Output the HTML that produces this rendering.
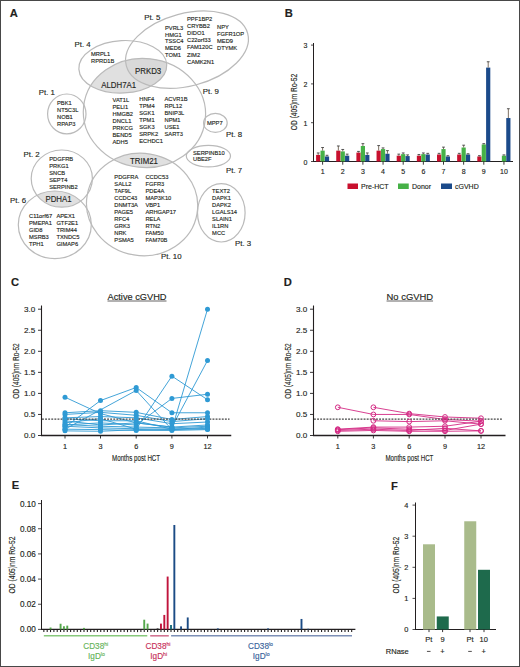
<!DOCTYPE html>
<html><head><meta charset="utf-8"><style>
html,body{margin:0;padding:0;background:#fff;}
svg{display:block;}
text{font-family:"Liberation Sans", sans-serif;stroke-width:0.14px;}
</style></head><body>
<svg width="520" height="667" viewBox="0 0 520 667">
<rect x="0" y="0" width="520" height="667" fill="#fff"/>
<defs>
<clipPath id="cp4"><ellipse cx="122.8" cy="66.8" rx="44.0" ry="26.2" transform="rotate(-3 122.8 66.8)" /></clipPath>
<clipPath id="cp5"><ellipse cx="187.0" cy="49.7" rx="62.8" ry="36.3" transform="rotate(-15 187.0 49.7)" /></clipPath>
<clipPath id="cp9"><ellipse cx="144.45" cy="112.96" rx="61.2" ry="54.5" transform="rotate(6.2 144.45 112.96)" /></clipPath>
<clipPath id="cp1"><ellipse cx="66.8" cy="113.9" rx="19.2" ry="19.9" /></clipPath>
<clipPath id="cp8"><ellipse cx="215.4" cy="122.9" rx="11.8" ry="9.5" /></clipPath>
<clipPath id="cp7"><ellipse cx="208.4" cy="156.1" rx="22.1" ry="10.7" /></clipPath>
<clipPath id="cp2"><ellipse cx="61.8" cy="178.6" rx="30.6" ry="28.6" /></clipPath>
<clipPath id="cp6"><ellipse cx="54.8" cy="224.8" rx="36.5" ry="33.8" /></clipPath>
<clipPath id="cp10"><ellipse cx="142.1" cy="204.5" rx="55.7" ry="51.1" transform="rotate(9.2 142.1 204.5)" /></clipPath>
<clipPath id="cp3"><ellipse cx="221.3" cy="212.8" rx="23.8" ry="29.2" /></clipPath>
</defs>
<g clip-path="url(#cp9)"><ellipse cx="122.8" cy="66.8" rx="44.0" ry="26.2" transform="rotate(-3 122.8 66.8)" fill="#e0e0e0"/></g>
<g clip-path="url(#cp9)"><g clip-path="url(#cp4)"><ellipse cx="187.0" cy="49.7" rx="62.8" ry="36.3" transform="rotate(-15 187.0 49.7)" fill="#d9d9d9"/></g></g>
<g clip-path="url(#cp10)"><ellipse cx="144.45" cy="112.96" rx="61.2" ry="54.5" transform="rotate(6.2 144.45 112.96)" fill="#e0e0e0"/></g>
<g clip-path="url(#cp6)"><ellipse cx="61.8" cy="178.6" rx="30.6" ry="28.6" fill="#e0e0e0"/></g>
<ellipse cx="122.8" cy="66.8" rx="44.0" ry="26.2" transform="rotate(-3 122.8 66.8)" fill="none" stroke="#bababa" stroke-width="1.2"/>
<ellipse cx="187.0" cy="49.7" rx="62.8" ry="36.3" transform="rotate(-15 187.0 49.7)" fill="none" stroke="#bababa" stroke-width="1.2"/>
<ellipse cx="144.45" cy="112.96" rx="61.2" ry="54.5" transform="rotate(6.2 144.45 112.96)" fill="none" stroke="#bababa" stroke-width="1.2"/>
<ellipse cx="66.8" cy="113.9" rx="19.2" ry="19.9" fill="none" stroke="#bababa" stroke-width="1.2"/>
<ellipse cx="215.4" cy="122.9" rx="11.8" ry="9.5" fill="none" stroke="#bababa" stroke-width="1.2"/>
<ellipse cx="208.4" cy="156.1" rx="22.1" ry="10.7" fill="none" stroke="#bababa" stroke-width="1.2"/>
<ellipse cx="61.8" cy="178.6" rx="30.6" ry="28.6" fill="none" stroke="#bababa" stroke-width="1.2"/>
<ellipse cx="54.8" cy="224.8" rx="36.5" ry="33.8" fill="none" stroke="#bababa" stroke-width="1.2"/>
<ellipse cx="142.1" cy="204.5" rx="55.7" ry="51.1" transform="rotate(9.2 142.1 204.5)" fill="none" stroke="#bababa" stroke-width="1.2"/>
<ellipse cx="221.3" cy="212.8" rx="23.8" ry="29.2" fill="none" stroke="#bababa" stroke-width="1.2"/>
<text x="165.00" y="29.77" font-size="5.75" text-anchor="start" fill="#231f20" stroke="#231f20" font-weight="normal"  stroke-width="0.05">PVRL3</text>
<text x="165.00" y="36.62" font-size="5.75" text-anchor="start" fill="#231f20" stroke="#231f20" font-weight="normal"  stroke-width="0.05">HMG1</text>
<text x="165.00" y="43.47" font-size="5.75" text-anchor="start" fill="#231f20" stroke="#231f20" font-weight="normal"  stroke-width="0.05">TSSC4</text>
<text x="165.00" y="50.32" font-size="5.75" text-anchor="start" fill="#231f20" stroke="#231f20" font-weight="normal"  stroke-width="0.05">MED6</text>
<text x="165.00" y="57.17" font-size="5.75" text-anchor="start" fill="#231f20" stroke="#231f20" font-weight="normal"  stroke-width="0.05">TOM1</text>
<text x="187.00" y="21.27" font-size="5.75" text-anchor="start" fill="#231f20" stroke="#231f20" font-weight="normal"  stroke-width="0.05">PPF1BP2</text>
<text x="187.00" y="28.32" font-size="5.75" text-anchor="start" fill="#231f20" stroke="#231f20" font-weight="normal"  stroke-width="0.05">CRYBB2</text>
<text x="187.00" y="35.37" font-size="5.75" text-anchor="start" fill="#231f20" stroke="#231f20" font-weight="normal"  stroke-width="0.05">DIDO1</text>
<text x="187.00" y="42.42" font-size="5.75" text-anchor="start" fill="#231f20" stroke="#231f20" font-weight="normal"  stroke-width="0.05">C22orf33</text>
<text x="187.00" y="49.47" font-size="5.75" text-anchor="start" fill="#231f20" stroke="#231f20" font-weight="normal"  stroke-width="0.05">FAM120C</text>
<text x="187.00" y="56.52" font-size="5.75" text-anchor="start" fill="#231f20" stroke="#231f20" font-weight="normal"  stroke-width="0.05">ZIM2</text>
<text x="187.00" y="63.57" font-size="5.75" text-anchor="start" fill="#231f20" stroke="#231f20" font-weight="normal"  stroke-width="0.05">CAMK2N1</text>
<text x="217.00" y="29.47" font-size="5.75" text-anchor="start" fill="#231f20" stroke="#231f20" font-weight="normal"  stroke-width="0.05">NPY</text>
<text x="217.00" y="36.42" font-size="5.75" text-anchor="start" fill="#231f20" stroke="#231f20" font-weight="normal"  stroke-width="0.05">FGFR1OP</text>
<text x="217.00" y="43.37" font-size="5.75" text-anchor="start" fill="#231f20" stroke="#231f20" font-weight="normal"  stroke-width="0.05">MED9</text>
<text x="217.00" y="50.32" font-size="5.75" text-anchor="start" fill="#231f20" stroke="#231f20" font-weight="normal"  stroke-width="0.05">DTYMK</text>
<text x="91.00" y="56.07" font-size="5.75" text-anchor="start" fill="#231f20" stroke="#231f20" font-weight="normal"  stroke-width="0.05">MRPL1</text>
<text x="91.00" y="63.07" font-size="5.75" text-anchor="start" fill="#231f20" stroke="#231f20" font-weight="normal"  stroke-width="0.05">RPRD1B</text>
<text x="57.00" y="105.07" font-size="5.75" text-anchor="start" fill="#231f20" stroke="#231f20" font-weight="normal"  stroke-width="0.05">PBK1</text>
<text x="57.00" y="111.97" font-size="5.75" text-anchor="start" fill="#231f20" stroke="#231f20" font-weight="normal"  stroke-width="0.05">NT5C3L</text>
<text x="57.00" y="118.87" font-size="5.75" text-anchor="start" fill="#231f20" stroke="#231f20" font-weight="normal"  stroke-width="0.05">NOB1</text>
<text x="57.00" y="125.77" font-size="5.75" text-anchor="start" fill="#231f20" stroke="#231f20" font-weight="normal"  stroke-width="0.05">RPAP3</text>
<text x="112.50" y="101.57" font-size="5.75" text-anchor="start" fill="#231f20" stroke="#231f20" font-weight="normal"  stroke-width="0.05">VAT1L</text>
<text x="112.50" y="108.57" font-size="5.75" text-anchor="start" fill="#231f20" stroke="#231f20" font-weight="normal"  stroke-width="0.05">PELI1</text>
<text x="112.50" y="115.57" font-size="5.75" text-anchor="start" fill="#231f20" stroke="#231f20" font-weight="normal"  stroke-width="0.05">HMGB2</text>
<text x="112.50" y="122.57" font-size="5.75" text-anchor="start" fill="#231f20" stroke="#231f20" font-weight="normal"  stroke-width="0.05">DNCL1</text>
<text x="112.50" y="129.57" font-size="5.75" text-anchor="start" fill="#231f20" stroke="#231f20" font-weight="normal"  stroke-width="0.05">PRKCG</text>
<text x="112.50" y="136.57" font-size="5.75" text-anchor="start" fill="#231f20" stroke="#231f20" font-weight="normal"  stroke-width="0.05">BEND5</text>
<text x="112.50" y="143.57" font-size="5.75" text-anchor="start" fill="#231f20" stroke="#231f20" font-weight="normal"  stroke-width="0.05">ADH5</text>
<text x="139.25" y="100.82" font-size="5.75" text-anchor="start" fill="#231f20" stroke="#231f20" font-weight="normal"  stroke-width="0.05">HNF4</text>
<text x="139.25" y="107.82" font-size="5.75" text-anchor="start" fill="#231f20" stroke="#231f20" font-weight="normal"  stroke-width="0.05">TPM4</text>
<text x="139.25" y="114.82" font-size="5.75" text-anchor="start" fill="#231f20" stroke="#231f20" font-weight="normal"  stroke-width="0.05">SGK1</text>
<text x="139.25" y="121.82" font-size="5.75" text-anchor="start" fill="#231f20" stroke="#231f20" font-weight="normal"  stroke-width="0.05">TPM1</text>
<text x="139.25" y="128.82" font-size="5.75" text-anchor="start" fill="#231f20" stroke="#231f20" font-weight="normal"  stroke-width="0.05">SGK3</text>
<text x="139.25" y="135.82" font-size="5.75" text-anchor="start" fill="#231f20" stroke="#231f20" font-weight="normal"  stroke-width="0.05">SRPK2</text>
<text x="139.25" y="142.82" font-size="5.75" text-anchor="start" fill="#231f20" stroke="#231f20" font-weight="normal"  stroke-width="0.05">ECHDC1</text>
<text x="164.50" y="100.82" font-size="5.75" text-anchor="start" fill="#231f20" stroke="#231f20" font-weight="normal"  stroke-width="0.05">ACVR1B</text>
<text x="164.50" y="107.82" font-size="5.75" text-anchor="start" fill="#231f20" stroke="#231f20" font-weight="normal"  stroke-width="0.05">RPL12</text>
<text x="164.50" y="114.82" font-size="5.75" text-anchor="start" fill="#231f20" stroke="#231f20" font-weight="normal"  stroke-width="0.05">BNIP3L</text>
<text x="164.50" y="121.82" font-size="5.75" text-anchor="start" fill="#231f20" stroke="#231f20" font-weight="normal"  stroke-width="0.05">NPM1</text>
<text x="164.50" y="128.82" font-size="5.75" text-anchor="start" fill="#231f20" stroke="#231f20" font-weight="normal"  stroke-width="0.05">USE1</text>
<text x="164.50" y="135.82" font-size="5.75" text-anchor="start" fill="#231f20" stroke="#231f20" font-weight="normal"  stroke-width="0.05">SART3</text>
<text x="214.80" y="125.07" font-size="5.75" text-anchor="middle" fill="#231f20" stroke="#231f20" font-weight="normal"  stroke-width="0.1">MPP7</text>
<text x="193.00" y="154.67" font-size="5.75" text-anchor="start" fill="#231f20" stroke="#231f20" font-weight="normal"  stroke-width="0.05">SERPINB10</text>
<text x="193.00" y="161.37" font-size="5.75" text-anchor="start" fill="#231f20" stroke="#231f20" font-weight="normal"  stroke-width="0.05">UBE2F</text>
<text x="49.20" y="160.57" font-size="5.75" text-anchor="start" fill="#231f20" stroke="#231f20" font-weight="normal"  stroke-width="0.05">PDGFRB</text>
<text x="49.20" y="167.57" font-size="5.75" text-anchor="start" fill="#231f20" stroke="#231f20" font-weight="normal"  stroke-width="0.05">PRKG1</text>
<text x="49.20" y="174.57" font-size="5.75" text-anchor="start" fill="#231f20" stroke="#231f20" font-weight="normal"  stroke-width="0.05">SNCB</text>
<text x="49.20" y="181.57" font-size="5.75" text-anchor="start" fill="#231f20" stroke="#231f20" font-weight="normal"  stroke-width="0.05">SEPT4</text>
<text x="49.20" y="188.57" font-size="5.75" text-anchor="start" fill="#231f20" stroke="#231f20" font-weight="normal"  stroke-width="0.05">SERPINB2</text>
<text x="29.00" y="217.87" font-size="5.75" text-anchor="start" fill="#231f20" stroke="#231f20" font-weight="normal"  stroke-width="0.05">C11orf67</text>
<text x="29.00" y="224.87" font-size="5.75" text-anchor="start" fill="#231f20" stroke="#231f20" font-weight="normal"  stroke-width="0.05">PMEPA1</text>
<text x="29.00" y="231.87" font-size="5.75" text-anchor="start" fill="#231f20" stroke="#231f20" font-weight="normal"  stroke-width="0.05">GID8</text>
<text x="29.00" y="238.87" font-size="5.75" text-anchor="start" fill="#231f20" stroke="#231f20" font-weight="normal"  stroke-width="0.05">MSRB3</text>
<text x="29.00" y="245.87" font-size="5.75" text-anchor="start" fill="#231f20" stroke="#231f20" font-weight="normal"  stroke-width="0.05">TPH1</text>
<text x="56.40" y="217.87" font-size="5.75" text-anchor="start" fill="#231f20" stroke="#231f20" font-weight="normal"  stroke-width="0.05">APEX1</text>
<text x="56.40" y="224.87" font-size="5.75" text-anchor="start" fill="#231f20" stroke="#231f20" font-weight="normal"  stroke-width="0.05">GTF2E1</text>
<text x="56.40" y="231.87" font-size="5.75" text-anchor="start" fill="#231f20" stroke="#231f20" font-weight="normal"  stroke-width="0.05">TRIM44</text>
<text x="56.40" y="238.87" font-size="5.75" text-anchor="start" fill="#231f20" stroke="#231f20" font-weight="normal"  stroke-width="0.05">TXNDC5</text>
<text x="56.40" y="245.87" font-size="5.75" text-anchor="start" fill="#231f20" stroke="#231f20" font-weight="normal"  stroke-width="0.05">GIMAP6</text>
<text x="114.30" y="179.07" font-size="5.75" text-anchor="start" fill="#231f20" stroke="#231f20" font-weight="normal"  stroke-width="0.05">PDGFRA</text>
<text x="114.30" y="186.07" font-size="5.75" text-anchor="start" fill="#231f20" stroke="#231f20" font-weight="normal"  stroke-width="0.05">SALL2</text>
<text x="114.30" y="193.07" font-size="5.75" text-anchor="start" fill="#231f20" stroke="#231f20" font-weight="normal"  stroke-width="0.05">TAF9L</text>
<text x="114.30" y="200.07" font-size="5.75" text-anchor="start" fill="#231f20" stroke="#231f20" font-weight="normal"  stroke-width="0.05">CCDC43</text>
<text x="114.30" y="207.07" font-size="5.75" text-anchor="start" fill="#231f20" stroke="#231f20" font-weight="normal"  stroke-width="0.05">DNMT3A</text>
<text x="114.30" y="214.07" font-size="5.75" text-anchor="start" fill="#231f20" stroke="#231f20" font-weight="normal"  stroke-width="0.05">PAGE5</text>
<text x="114.30" y="221.07" font-size="5.75" text-anchor="start" fill="#231f20" stroke="#231f20" font-weight="normal"  stroke-width="0.05">RFC4</text>
<text x="114.30" y="228.07" font-size="5.75" text-anchor="start" fill="#231f20" stroke="#231f20" font-weight="normal"  stroke-width="0.05">GRK3</text>
<text x="114.30" y="235.07" font-size="5.75" text-anchor="start" fill="#231f20" stroke="#231f20" font-weight="normal"  stroke-width="0.05">NRK</text>
<text x="114.30" y="242.07" font-size="5.75" text-anchor="start" fill="#231f20" stroke="#231f20" font-weight="normal"  stroke-width="0.05">PSMA5</text>
<text x="145.40" y="179.07" font-size="5.75" text-anchor="start" fill="#231f20" stroke="#231f20" font-weight="normal"  stroke-width="0.05">CCDC53</text>
<text x="145.40" y="186.07" font-size="5.75" text-anchor="start" fill="#231f20" stroke="#231f20" font-weight="normal"  stroke-width="0.05">FGFR3</text>
<text x="145.40" y="193.07" font-size="5.75" text-anchor="start" fill="#231f20" stroke="#231f20" font-weight="normal"  stroke-width="0.05">PDE4A</text>
<text x="145.40" y="200.07" font-size="5.75" text-anchor="start" fill="#231f20" stroke="#231f20" font-weight="normal"  stroke-width="0.05">MAP3K10</text>
<text x="145.40" y="207.07" font-size="5.75" text-anchor="start" fill="#231f20" stroke="#231f20" font-weight="normal"  stroke-width="0.05">VBP1</text>
<text x="145.40" y="214.07" font-size="5.75" text-anchor="start" fill="#231f20" stroke="#231f20" font-weight="normal"  stroke-width="0.05">ARHGAP17</text>
<text x="145.40" y="221.07" font-size="5.75" text-anchor="start" fill="#231f20" stroke="#231f20" font-weight="normal"  stroke-width="0.05">RELA</text>
<text x="145.40" y="228.07" font-size="5.75" text-anchor="start" fill="#231f20" stroke="#231f20" font-weight="normal"  stroke-width="0.05">RTN2</text>
<text x="145.40" y="235.07" font-size="5.75" text-anchor="start" fill="#231f20" stroke="#231f20" font-weight="normal"  stroke-width="0.05">FAM50</text>
<text x="145.40" y="242.07" font-size="5.75" text-anchor="start" fill="#231f20" stroke="#231f20" font-weight="normal"  stroke-width="0.05">FAM70B</text>
<text x="212.10" y="193.47" font-size="5.75" text-anchor="start" fill="#231f20" stroke="#231f20" font-weight="normal"  stroke-width="0.05">TEXT2</text>
<text x="212.10" y="200.42" font-size="5.75" text-anchor="start" fill="#231f20" stroke="#231f20" font-weight="normal"  stroke-width="0.05">DAPK1</text>
<text x="212.10" y="207.37" font-size="5.75" text-anchor="start" fill="#231f20" stroke="#231f20" font-weight="normal"  stroke-width="0.05">DAPK2</text>
<text x="212.10" y="214.32" font-size="5.75" text-anchor="start" fill="#231f20" stroke="#231f20" font-weight="normal"  stroke-width="0.05">LGALS14</text>
<text x="212.10" y="221.27" font-size="5.75" text-anchor="start" fill="#231f20" stroke="#231f20" font-weight="normal"  stroke-width="0.05">SLAIN1</text>
<text x="212.10" y="228.22" font-size="5.75" text-anchor="start" fill="#231f20" stroke="#231f20" font-weight="normal"  stroke-width="0.05">IL1RN</text>
<text x="212.10" y="235.17" font-size="5.75" text-anchor="start" fill="#231f20" stroke="#231f20" font-weight="normal"  stroke-width="0.05">MCC</text>
<text x="118.75" y="87.99" font-size="8.3" text-anchor="middle" fill="#231f20" stroke="#231f20" stroke-width="0.2" textLength="35" lengthAdjust="spacingAndGlyphs">ALDH7A1</text>
<text x="148.1" y="74.24" font-size="8.3" text-anchor="middle" fill="#231f20" stroke="#231f20" stroke-width="0.2" textLength="26.25" lengthAdjust="spacingAndGlyphs">PRKD3</text>
<text x="144" y="163.59" font-size="8.3" text-anchor="middle" fill="#231f20" stroke="#231f20" stroke-width="0.2" textLength="27.9" lengthAdjust="spacingAndGlyphs">TRIM21</text>
<text x="58.5" y="201.79" font-size="8.3" text-anchor="middle" fill="#231f20" stroke="#231f20" stroke-width="0.2" textLength="26.1" lengthAdjust="spacingAndGlyphs">PDHA1</text>
<text x="144.20" y="20.03" font-size="7.85" text-anchor="start" fill="#231f20" stroke="#231f20" font-weight="normal" >Pt. 5</text>
<text x="74.50" y="46.83" font-size="7.85" text-anchor="start" fill="#231f20" stroke="#231f20" font-weight="normal" >Pt. 4</text>
<text x="38.75" y="95.03" font-size="7.85" text-anchor="start" fill="#231f20" stroke="#231f20" font-weight="normal" >Pt. 1</text>
<text x="202.80" y="94.33" font-size="7.85" text-anchor="start" fill="#231f20" stroke="#231f20" font-weight="normal" >Pt. 9</text>
<text x="226.00" y="136.53" font-size="7.85" text-anchor="start" fill="#231f20" stroke="#231f20" font-weight="normal" >Pt. 8</text>
<text x="226.00" y="172.93" font-size="7.85" text-anchor="start" fill="#231f20" stroke="#231f20" font-weight="normal" >Pt. 7</text>
<text x="23.50" y="156.83" font-size="7.85" text-anchor="start" fill="#231f20" stroke="#231f20" font-weight="normal" >Pt. 2</text>
<text x="10.00" y="203.33" font-size="7.85" text-anchor="start" fill="#231f20" stroke="#231f20" font-weight="normal" >Pt. 6</text>
<text x="161.00" y="258.83" font-size="7.85" text-anchor="start" fill="#231f20" stroke="#231f20" font-weight="normal" >Pt. 10</text>
<text x="235.00" y="245.93" font-size="7.85" text-anchor="start" fill="#231f20" stroke="#231f20" font-weight="normal" >Pt. 3</text>
<text x="9.70" y="16.78" font-size="11.2" text-anchor="start" fill="#231f20" stroke="#231f20" font-weight="bold"  stroke-width="0.3">A</text>
<text x="284.70" y="16.53" font-size="11.2" text-anchor="start" fill="#231f20" stroke="#231f20" font-weight="bold"  stroke-width="0.3">B</text>
<text x="10.95" y="286.03" font-size="11.2" text-anchor="start" fill="#231f20" stroke="#231f20" font-weight="bold"  stroke-width="0.3">C</text>
<text x="283.80" y="286.28" font-size="11.2" text-anchor="start" fill="#231f20" stroke="#231f20" font-weight="bold"  stroke-width="0.3">D</text>
<text x="11.70" y="489.03" font-size="11.2" text-anchor="start" fill="#231f20" stroke="#231f20" font-weight="bold"  stroke-width="0.3">E</text>
<text x="390.90" y="489.53" font-size="11.2" text-anchor="start" fill="#231f20" stroke="#231f20" font-weight="bold"  stroke-width="0.3">F</text>
<line x1="313.5" y1="43" x2="313.5" y2="161.5" stroke="#231f20" stroke-width="1"/>
<line x1="313.0" y1="161.5" x2="513" y2="161.5" stroke="#231f20" stroke-width="1.2"/>
<line x1="311.0" y1="161.5" x2="313.5" y2="161.5" stroke="#231f20" stroke-width="0.8"/>
<text x="307.50" y="164.72" font-size="7" text-anchor="end" fill="#231f20" stroke="#231f20" font-weight="normal" >0</text>
<line x1="311.0" y1="122.7" x2="313.5" y2="122.7" stroke="#231f20" stroke-width="0.8"/>
<text x="307.50" y="125.92" font-size="7" text-anchor="end" fill="#231f20" stroke="#231f20" font-weight="normal" >1</text>
<line x1="311.0" y1="83.9" x2="313.5" y2="83.9" stroke="#231f20" stroke-width="0.8"/>
<text x="307.50" y="87.12" font-size="7" text-anchor="end" fill="#231f20" stroke="#231f20" font-weight="normal" >2</text>
<line x1="311.0" y1="45.10000000000001" x2="313.5" y2="45.10000000000001" stroke="#231f20" stroke-width="0.8"/>
<text x="307.50" y="48.32" font-size="7" text-anchor="end" fill="#231f20" stroke="#231f20" font-weight="normal" >3</text>
<rect x="316.10" y="154.90" width="4.2" height="6.60" fill="#c8102e"/>
<line x1="318.20" y1="152.96" x2="318.20" y2="154.90" stroke="#6f6050" stroke-width="0.9"/>
<line x1="316.80" y1="152.96" x2="319.60" y2="152.96" stroke="#444" stroke-width="0.9"/>
<rect x="320.50" y="150.64" width="4.2" height="10.86" fill="#46b147"/>
<line x1="322.60" y1="147.53" x2="322.60" y2="150.64" stroke="#6f6050" stroke-width="0.9"/>
<line x1="321.20" y1="147.53" x2="324.00" y2="147.53" stroke="#444" stroke-width="0.9"/>
<rect x="324.90" y="156.46" width="4.2" height="5.04" fill="#1b4a8a"/>
<line x1="327.00" y1="155.29" x2="327.00" y2="156.46" stroke="#6f6050" stroke-width="0.9"/>
<line x1="325.60" y1="155.29" x2="328.40" y2="155.29" stroke="#444" stroke-width="0.9"/>
<line x1="322.60" y1="161.5" x2="322.60" y2="164.7" stroke="#231f20" stroke-width="0.9"/>
<text x="322.60" y="174.27" font-size="7" text-anchor="middle" fill="#231f20" stroke="#231f20" font-weight="normal" >1</text>
<rect x="336.25" y="150.64" width="4.2" height="10.86" fill="#c8102e"/>
<line x1="338.35" y1="145.98" x2="338.35" y2="150.64" stroke="#6f6050" stroke-width="0.9"/>
<line x1="336.95" y1="145.98" x2="339.75" y2="145.98" stroke="#444" stroke-width="0.9"/>
<rect x="340.65" y="151.41" width="4.2" height="10.09" fill="#46b147"/>
<line x1="342.75" y1="149.47" x2="342.75" y2="151.41" stroke="#6f6050" stroke-width="0.9"/>
<line x1="341.35" y1="149.47" x2="344.15" y2="149.47" stroke="#444" stroke-width="0.9"/>
<rect x="345.05" y="155.68" width="4.2" height="5.82" fill="#1b4a8a"/>
<line x1="347.15" y1="154.13" x2="347.15" y2="155.68" stroke="#6f6050" stroke-width="0.9"/>
<line x1="345.75" y1="154.13" x2="348.55" y2="154.13" stroke="#444" stroke-width="0.9"/>
<line x1="342.75" y1="161.5" x2="342.75" y2="164.7" stroke="#231f20" stroke-width="0.9"/>
<text x="342.75" y="174.27" font-size="7" text-anchor="middle" fill="#231f20" stroke="#231f20" font-weight="normal" >2</text>
<rect x="356.40" y="152.58" width="4.2" height="8.92" fill="#c8102e"/>
<line x1="358.50" y1="151.41" x2="358.50" y2="152.58" stroke="#6f6050" stroke-width="0.9"/>
<line x1="357.10" y1="151.41" x2="359.90" y2="151.41" stroke="#444" stroke-width="0.9"/>
<rect x="360.80" y="145.98" width="4.2" height="15.52" fill="#46b147"/>
<line x1="362.90" y1="143.65" x2="362.90" y2="145.98" stroke="#6f6050" stroke-width="0.9"/>
<line x1="361.50" y1="143.65" x2="364.30" y2="143.65" stroke="#444" stroke-width="0.9"/>
<rect x="365.20" y="154.90" width="4.2" height="6.60" fill="#1b4a8a"/>
<line x1="367.30" y1="152.96" x2="367.30" y2="154.90" stroke="#6f6050" stroke-width="0.9"/>
<line x1="365.90" y1="152.96" x2="368.70" y2="152.96" stroke="#444" stroke-width="0.9"/>
<line x1="362.90" y1="161.5" x2="362.90" y2="164.7" stroke="#231f20" stroke-width="0.9"/>
<text x="362.90" y="174.27" font-size="7" text-anchor="middle" fill="#231f20" stroke="#231f20" font-weight="normal" >3</text>
<rect x="376.55" y="150.64" width="4.2" height="10.86" fill="#c8102e"/>
<line x1="378.65" y1="145.59" x2="378.65" y2="150.64" stroke="#6f6050" stroke-width="0.9"/>
<line x1="377.25" y1="145.59" x2="380.05" y2="145.59" stroke="#444" stroke-width="0.9"/>
<rect x="380.95" y="149.08" width="4.2" height="12.42" fill="#46b147"/>
<line x1="383.05" y1="147.92" x2="383.05" y2="149.08" stroke="#6f6050" stroke-width="0.9"/>
<line x1="381.65" y1="147.92" x2="384.45" y2="147.92" stroke="#444" stroke-width="0.9"/>
<rect x="385.35" y="153.74" width="4.2" height="7.76" fill="#1b4a8a"/>
<line x1="387.45" y1="150.64" x2="387.45" y2="153.74" stroke="#6f6050" stroke-width="0.9"/>
<line x1="386.05" y1="150.64" x2="388.85" y2="150.64" stroke="#444" stroke-width="0.9"/>
<line x1="383.05" y1="161.5" x2="383.05" y2="164.7" stroke="#231f20" stroke-width="0.9"/>
<text x="383.05" y="174.27" font-size="7" text-anchor="middle" fill="#231f20" stroke="#231f20" font-weight="normal" >4</text>
<rect x="396.70" y="155.68" width="4.2" height="5.82" fill="#c8102e"/>
<line x1="398.80" y1="154.13" x2="398.80" y2="155.68" stroke="#6f6050" stroke-width="0.9"/>
<line x1="397.40" y1="154.13" x2="400.20" y2="154.13" stroke="#444" stroke-width="0.9"/>
<rect x="401.10" y="154.13" width="4.2" height="7.37" fill="#46b147"/>
<line x1="403.20" y1="152.96" x2="403.20" y2="154.13" stroke="#6f6050" stroke-width="0.9"/>
<line x1="401.80" y1="152.96" x2="404.60" y2="152.96" stroke="#444" stroke-width="0.9"/>
<rect x="405.50" y="156.07" width="4.2" height="5.43" fill="#1b4a8a"/>
<line x1="407.60" y1="154.90" x2="407.60" y2="156.07" stroke="#6f6050" stroke-width="0.9"/>
<line x1="406.20" y1="154.90" x2="409.00" y2="154.90" stroke="#444" stroke-width="0.9"/>
<line x1="403.20" y1="161.5" x2="403.20" y2="164.7" stroke="#231f20" stroke-width="0.9"/>
<text x="403.20" y="174.27" font-size="7" text-anchor="middle" fill="#231f20" stroke="#231f20" font-weight="normal" >5</text>
<rect x="416.85" y="155.68" width="4.2" height="5.82" fill="#c8102e"/>
<line x1="418.95" y1="154.52" x2="418.95" y2="155.68" stroke="#6f6050" stroke-width="0.9"/>
<line x1="417.55" y1="154.52" x2="420.35" y2="154.52" stroke="#444" stroke-width="0.9"/>
<rect x="421.25" y="154.13" width="4.2" height="7.37" fill="#46b147"/>
<line x1="423.35" y1="152.96" x2="423.35" y2="154.13" stroke="#6f6050" stroke-width="0.9"/>
<line x1="421.95" y1="152.96" x2="424.75" y2="152.96" stroke="#444" stroke-width="0.9"/>
<rect x="425.65" y="154.52" width="4.2" height="6.98" fill="#1b4a8a"/>
<line x1="427.75" y1="153.35" x2="427.75" y2="154.52" stroke="#6f6050" stroke-width="0.9"/>
<line x1="426.35" y1="153.35" x2="429.15" y2="153.35" stroke="#444" stroke-width="0.9"/>
<line x1="423.35" y1="161.5" x2="423.35" y2="164.7" stroke="#231f20" stroke-width="0.9"/>
<text x="423.35" y="174.27" font-size="7" text-anchor="middle" fill="#231f20" stroke="#231f20" font-weight="normal" >6</text>
<rect x="437.00" y="154.52" width="4.2" height="6.98" fill="#c8102e"/>
<line x1="439.10" y1="153.35" x2="439.10" y2="154.52" stroke="#6f6050" stroke-width="0.9"/>
<line x1="437.70" y1="153.35" x2="440.50" y2="153.35" stroke="#444" stroke-width="0.9"/>
<rect x="441.40" y="149.08" width="4.2" height="12.42" fill="#46b147"/>
<line x1="443.50" y1="147.14" x2="443.50" y2="149.08" stroke="#6f6050" stroke-width="0.9"/>
<line x1="442.10" y1="147.14" x2="444.90" y2="147.14" stroke="#444" stroke-width="0.9"/>
<rect x="445.80" y="156.46" width="4.2" height="5.04" fill="#1b4a8a"/>
<line x1="447.90" y1="155.68" x2="447.90" y2="156.46" stroke="#6f6050" stroke-width="0.9"/>
<line x1="446.50" y1="155.68" x2="449.30" y2="155.68" stroke="#444" stroke-width="0.9"/>
<line x1="443.50" y1="161.5" x2="443.50" y2="164.7" stroke="#231f20" stroke-width="0.9"/>
<text x="443.50" y="174.27" font-size="7" text-anchor="middle" fill="#231f20" stroke="#231f20" font-weight="normal" >7</text>
<rect x="457.15" y="154.52" width="4.2" height="6.98" fill="#c8102e"/>
<line x1="459.25" y1="153.35" x2="459.25" y2="154.52" stroke="#6f6050" stroke-width="0.9"/>
<line x1="457.85" y1="153.35" x2="460.65" y2="153.35" stroke="#444" stroke-width="0.9"/>
<rect x="461.55" y="147.53" width="4.2" height="13.97" fill="#46b147"/>
<line x1="463.65" y1="145.20" x2="463.65" y2="147.53" stroke="#6f6050" stroke-width="0.9"/>
<line x1="462.25" y1="145.20" x2="465.05" y2="145.20" stroke="#444" stroke-width="0.9"/>
<rect x="465.95" y="154.52" width="4.2" height="6.98" fill="#1b4a8a"/>
<line x1="468.05" y1="153.74" x2="468.05" y2="154.52" stroke="#6f6050" stroke-width="0.9"/>
<line x1="466.65" y1="153.74" x2="469.45" y2="153.74" stroke="#444" stroke-width="0.9"/>
<line x1="463.65" y1="161.5" x2="463.65" y2="164.7" stroke="#231f20" stroke-width="0.9"/>
<text x="463.65" y="174.27" font-size="7" text-anchor="middle" fill="#231f20" stroke="#231f20" font-weight="normal" >8</text>
<rect x="477.30" y="156.46" width="4.2" height="5.04" fill="#c8102e"/>
<line x1="479.40" y1="155.68" x2="479.40" y2="156.46" stroke="#6f6050" stroke-width="0.9"/>
<line x1="478.00" y1="155.68" x2="480.80" y2="155.68" stroke="#444" stroke-width="0.9"/>
<rect x="481.70" y="144.43" width="4.2" height="17.07" fill="#46b147"/>
<line x1="483.80" y1="143.65" x2="483.80" y2="144.43" stroke="#6f6050" stroke-width="0.9"/>
<line x1="482.40" y1="143.65" x2="485.20" y2="143.65" stroke="#444" stroke-width="0.9"/>
<rect x="486.10" y="67.60" width="4.2" height="93.90" fill="#1b4a8a"/>
<line x1="488.20" y1="61.78" x2="488.20" y2="67.60" stroke="#6f6050" stroke-width="0.9"/>
<line x1="486.80" y1="61.78" x2="489.60" y2="61.78" stroke="#444" stroke-width="0.9"/>
<line x1="483.80" y1="161.5" x2="483.80" y2="164.7" stroke="#231f20" stroke-width="0.9"/>
<text x="483.80" y="174.27" font-size="7" text-anchor="middle" fill="#231f20" stroke="#231f20" font-weight="normal" >9</text>
<rect x="501.85" y="155.68" width="4.2" height="5.82" fill="#46b147"/>
<line x1="503.95" y1="154.90" x2="503.95" y2="155.68" stroke="#6f6050" stroke-width="0.9"/>
<line x1="502.55" y1="154.90" x2="505.35" y2="154.90" stroke="#444" stroke-width="0.9"/>
<rect x="506.25" y="118.04" width="4.2" height="43.46" fill="#1b4a8a"/>
<line x1="508.35" y1="108.73" x2="508.35" y2="118.04" stroke="#6f6050" stroke-width="0.9"/>
<line x1="506.95" y1="108.73" x2="509.75" y2="108.73" stroke="#444" stroke-width="0.9"/>
<line x1="503.95" y1="161.5" x2="503.95" y2="164.7" stroke="#231f20" stroke-width="0.9"/>
<text x="503.95" y="174.27" font-size="7" text-anchor="middle" fill="#231f20" stroke="#231f20" font-weight="normal" >10</text>
<rect x="347.5" y="183.5" width="10.5" height="5.5" fill="#c8102e"/>
<text x="361.00" y="188.77" font-size="7" text-anchor="start" fill="#231f20" stroke="#231f20" font-weight="normal" >Pre-HCT</text>
<rect x="398" y="183.5" width="10.75" height="5.5" fill="#46b147"/>
<text x="412.00" y="188.77" font-size="7" text-anchor="start" fill="#231f20" stroke="#231f20" font-weight="normal" >Donor</text>
<rect x="441" y="183.5" width="11" height="5.5" fill="#1b4a8a"/>
<text x="455.00" y="188.77" font-size="7" text-anchor="start" fill="#231f20" stroke="#231f20" font-weight="normal" >cGVHD</text>
<g transform="translate(294.4 102) rotate(-90)"><text x="0" y="3.02" font-size="8.4" text-anchor="middle" fill="#231f20" stroke="#231f20" stroke-width="0.35" textLength="56.3" lengthAdjust="spacingAndGlyphs">OD (405)nm Ro-52</text></g>
<line x1="41.5" y1="305.5" x2="41.5" y2="435.5" stroke="#231f20" stroke-width="1.1"/>
<line x1="41.0" y1="435.5" x2="231.25" y2="435.5" stroke="#231f20" stroke-width="1.3"/>
<line x1="38.0" y1="435.5" x2="41.5" y2="435.5" stroke="#231f20" stroke-width="0.9"/>
<text x="35.30" y="438.42" font-size="8.1" text-anchor="end" fill="#231f20" stroke="#231f20" font-weight="normal" >0.0</text>
<line x1="38.0" y1="414.45" x2="41.5" y2="414.45" stroke="#231f20" stroke-width="0.9"/>
<text x="35.30" y="417.37" font-size="8.1" text-anchor="end" fill="#231f20" stroke="#231f20" font-weight="normal" >0.5</text>
<line x1="38.0" y1="393.4" x2="41.5" y2="393.4" stroke="#231f20" stroke-width="0.9"/>
<text x="35.30" y="396.32" font-size="8.1" text-anchor="end" fill="#231f20" stroke="#231f20" font-weight="normal" >1.0</text>
<line x1="38.0" y1="372.35" x2="41.5" y2="372.35" stroke="#231f20" stroke-width="0.9"/>
<text x="35.30" y="375.27" font-size="8.1" text-anchor="end" fill="#231f20" stroke="#231f20" font-weight="normal" >1.5</text>
<line x1="38.0" y1="351.3" x2="41.5" y2="351.3" stroke="#231f20" stroke-width="0.9"/>
<text x="35.30" y="354.22" font-size="8.1" text-anchor="end" fill="#231f20" stroke="#231f20" font-weight="normal" >2.0</text>
<line x1="38.0" y1="330.25" x2="41.5" y2="330.25" stroke="#231f20" stroke-width="0.9"/>
<text x="35.30" y="333.17" font-size="8.1" text-anchor="end" fill="#231f20" stroke="#231f20" font-weight="normal" >2.5</text>
<line x1="38.0" y1="309.2" x2="41.5" y2="309.2" stroke="#231f20" stroke-width="0.9"/>
<text x="35.30" y="312.12" font-size="8.1" text-anchor="end" fill="#231f20" stroke="#231f20" font-weight="normal" >3.0</text>
<line x1="65" y1="435.5" x2="65" y2="438.5" stroke="#231f20" stroke-width="0.9"/>
<text x="65.00" y="448.75" font-size="7.3" text-anchor="middle" fill="#231f20" stroke="#231f20" font-weight="normal" >1</text>
<line x1="100.5" y1="435.5" x2="100.5" y2="438.5" stroke="#231f20" stroke-width="0.9"/>
<text x="100.50" y="448.75" font-size="7.3" text-anchor="middle" fill="#231f20" stroke="#231f20" font-weight="normal" >3</text>
<line x1="136.2" y1="435.5" x2="136.2" y2="438.5" stroke="#231f20" stroke-width="0.9"/>
<text x="136.20" y="448.75" font-size="7.3" text-anchor="middle" fill="#231f20" stroke="#231f20" font-weight="normal" >6</text>
<line x1="171.9" y1="435.5" x2="171.9" y2="438.5" stroke="#231f20" stroke-width="0.9"/>
<text x="171.90" y="448.75" font-size="7.3" text-anchor="middle" fill="#231f20" stroke="#231f20" font-weight="normal" >9</text>
<line x1="207.5" y1="435.5" x2="207.5" y2="438.5" stroke="#231f20" stroke-width="0.9"/>
<text x="207.50" y="448.75" font-size="7.3" text-anchor="middle" fill="#231f20" stroke="#231f20" font-weight="normal" >12</text>
<polyline points="65.00,397.19 100.50,413.61 136.20,422.87 171.90,427.08 207.50,424.98" fill="none" stroke="#2f9ad4" stroke-width="0.9"/>
<polyline points="65.00,427.08 100.50,400.56 136.20,387.51 171.90,412.77 207.50,412.77" fill="none" stroke="#2f9ad4" stroke-width="0.9"/>
<polyline points="65.00,429.19 136.20,390.45 171.90,429.61 207.50,427.08" fill="none" stroke="#2f9ad4" stroke-width="0.9"/>
<polyline points="65.00,422.87 100.50,418.66 136.20,429.19 171.90,376.14 207.50,399.71" fill="none" stroke="#2f9ad4" stroke-width="0.9"/>
<polyline points="65.00,424.98 100.50,422.87 136.20,424.98 171.90,398.45 207.50,394.24" fill="none" stroke="#2f9ad4" stroke-width="0.9"/>
<polyline points="65.00,418.66 100.50,420.76 136.20,420.76 171.90,429.19 207.50,309.20" fill="none" stroke="#2f9ad4" stroke-width="0.9"/>
<polyline points="65.00,420.76 100.50,424.98 136.20,422.87 171.90,427.08 207.50,360.56" fill="none" stroke="#2f9ad4" stroke-width="0.9"/>
<polyline points="65.00,412.77 100.50,410.66 136.20,412.35 171.90,419.50 207.50,416.56" fill="none" stroke="#2f9ad4" stroke-width="0.9"/>
<polyline points="65.00,414.45 100.50,412.35 136.20,415.29 171.90,421.61 207.50,418.66" fill="none" stroke="#2f9ad4" stroke-width="0.9"/>
<polyline points="65.00,417.82 100.50,416.56 136.20,417.82 171.90,423.71 207.50,422.03" fill="none" stroke="#2f9ad4" stroke-width="0.9"/>
<polyline points="65.00,424.55 100.50,426.24 136.20,427.08 171.90,427.92 207.50,426.24" fill="none" stroke="#2f9ad4" stroke-width="0.9"/>
<polyline points="65.00,426.24 100.50,427.92 136.20,428.76 171.90,429.61 207.50,428.34" fill="none" stroke="#2f9ad4" stroke-width="0.9"/>
<polyline points="65.00,429.19 100.50,429.61 136.20,430.45 171.90,430.45 207.50,429.61" fill="none" stroke="#2f9ad4" stroke-width="0.9"/>
<polyline points="65.00,430.87 100.50,431.29 136.20,429.61 171.90,428.76 207.50,429.19" fill="none" stroke="#2f9ad4" stroke-width="0.9"/>
<line x1="42.0" y1="419.1" x2="229.5" y2="419.1" stroke="#444" stroke-width="1.2" stroke-dasharray="1.9 1.2"/>
<circle cx="65" cy="397.19" r="2.5" fill="#2f9ad4"/>
<circle cx="100.5" cy="413.61" r="2.5" fill="#2f9ad4"/>
<circle cx="136.2" cy="422.87" r="2.5" fill="#2f9ad4"/>
<circle cx="171.9" cy="427.08" r="2.5" fill="#2f9ad4"/>
<circle cx="207.5" cy="424.98" r="2.5" fill="#2f9ad4"/>
<circle cx="65" cy="427.08" r="2.5" fill="#2f9ad4"/>
<circle cx="100.5" cy="400.56" r="2.5" fill="#2f9ad4"/>
<circle cx="136.2" cy="387.51" r="2.5" fill="#2f9ad4"/>
<circle cx="171.9" cy="412.77" r="2.5" fill="#2f9ad4"/>
<circle cx="207.5" cy="412.77" r="2.5" fill="#2f9ad4"/>
<circle cx="65" cy="429.19" r="2.5" fill="#2f9ad4"/>
<circle cx="136.2" cy="390.45" r="2.5" fill="#2f9ad4"/>
<circle cx="171.9" cy="429.61" r="2.5" fill="#2f9ad4"/>
<circle cx="207.5" cy="427.08" r="2.5" fill="#2f9ad4"/>
<circle cx="65" cy="422.87" r="2.5" fill="#2f9ad4"/>
<circle cx="100.5" cy="418.66" r="2.5" fill="#2f9ad4"/>
<circle cx="136.2" cy="429.19" r="2.5" fill="#2f9ad4"/>
<circle cx="171.9" cy="376.14" r="2.5" fill="#2f9ad4"/>
<circle cx="207.5" cy="399.71" r="2.5" fill="#2f9ad4"/>
<circle cx="65" cy="424.98" r="2.5" fill="#2f9ad4"/>
<circle cx="100.5" cy="422.87" r="2.5" fill="#2f9ad4"/>
<circle cx="136.2" cy="424.98" r="2.5" fill="#2f9ad4"/>
<circle cx="171.9" cy="398.45" r="2.5" fill="#2f9ad4"/>
<circle cx="207.5" cy="394.24" r="2.5" fill="#2f9ad4"/>
<circle cx="65" cy="418.66" r="2.5" fill="#2f9ad4"/>
<circle cx="100.5" cy="420.76" r="2.5" fill="#2f9ad4"/>
<circle cx="136.2" cy="420.76" r="2.5" fill="#2f9ad4"/>
<circle cx="171.9" cy="429.19" r="2.5" fill="#2f9ad4"/>
<circle cx="207.5" cy="309.20" r="2.5" fill="#2f9ad4"/>
<circle cx="65" cy="420.76" r="2.5" fill="#2f9ad4"/>
<circle cx="100.5" cy="424.98" r="2.5" fill="#2f9ad4"/>
<circle cx="136.2" cy="422.87" r="2.5" fill="#2f9ad4"/>
<circle cx="171.9" cy="427.08" r="2.5" fill="#2f9ad4"/>
<circle cx="207.5" cy="360.56" r="2.5" fill="#2f9ad4"/>
<circle cx="65" cy="412.77" r="2.5" fill="#2f9ad4"/>
<circle cx="100.5" cy="410.66" r="2.5" fill="#2f9ad4"/>
<circle cx="136.2" cy="412.35" r="2.5" fill="#2f9ad4"/>
<circle cx="171.9" cy="419.50" r="2.5" fill="#2f9ad4"/>
<circle cx="207.5" cy="416.56" r="2.5" fill="#2f9ad4"/>
<circle cx="65" cy="414.45" r="2.5" fill="#2f9ad4"/>
<circle cx="100.5" cy="412.35" r="2.5" fill="#2f9ad4"/>
<circle cx="136.2" cy="415.29" r="2.5" fill="#2f9ad4"/>
<circle cx="171.9" cy="421.61" r="2.5" fill="#2f9ad4"/>
<circle cx="207.5" cy="418.66" r="2.5" fill="#2f9ad4"/>
<circle cx="65" cy="417.82" r="2.5" fill="#2f9ad4"/>
<circle cx="100.5" cy="416.56" r="2.5" fill="#2f9ad4"/>
<circle cx="136.2" cy="417.82" r="2.5" fill="#2f9ad4"/>
<circle cx="171.9" cy="423.71" r="2.5" fill="#2f9ad4"/>
<circle cx="207.5" cy="422.03" r="2.5" fill="#2f9ad4"/>
<circle cx="65" cy="424.55" r="2.5" fill="#2f9ad4"/>
<circle cx="100.5" cy="426.24" r="2.5" fill="#2f9ad4"/>
<circle cx="136.2" cy="427.08" r="2.5" fill="#2f9ad4"/>
<circle cx="171.9" cy="427.92" r="2.5" fill="#2f9ad4"/>
<circle cx="207.5" cy="426.24" r="2.5" fill="#2f9ad4"/>
<circle cx="65" cy="426.24" r="2.5" fill="#2f9ad4"/>
<circle cx="100.5" cy="427.92" r="2.5" fill="#2f9ad4"/>
<circle cx="136.2" cy="428.76" r="2.5" fill="#2f9ad4"/>
<circle cx="171.9" cy="429.61" r="2.5" fill="#2f9ad4"/>
<circle cx="207.5" cy="428.34" r="2.5" fill="#2f9ad4"/>
<circle cx="65" cy="429.19" r="2.5" fill="#2f9ad4"/>
<circle cx="100.5" cy="429.61" r="2.5" fill="#2f9ad4"/>
<circle cx="136.2" cy="430.45" r="2.5" fill="#2f9ad4"/>
<circle cx="171.9" cy="430.45" r="2.5" fill="#2f9ad4"/>
<circle cx="207.5" cy="429.61" r="2.5" fill="#2f9ad4"/>
<circle cx="65" cy="430.87" r="2.5" fill="#2f9ad4"/>
<circle cx="100.5" cy="431.29" r="2.5" fill="#2f9ad4"/>
<circle cx="136.2" cy="429.61" r="2.5" fill="#2f9ad4"/>
<circle cx="171.9" cy="428.76" r="2.5" fill="#2f9ad4"/>
<circle cx="207.5" cy="429.19" r="2.5" fill="#2f9ad4"/>
<text x="137" y="300.0" font-size="9.2" text-anchor="middle" fill="#231f20" stroke="#231f20" textLength="59" lengthAdjust="spacingAndGlyphs">Active cGVHD</text>
<line x1="107.5" y1="301.0" x2="166.5" y2="301.0" stroke="#231f20" stroke-width="0.7"/>
<text x="136.1" y="461.4" font-size="9.2" text-anchor="middle" fill="#231f20" stroke="#231f20" stroke-width="0.3" textLength="48" lengthAdjust="spacingAndGlyphs">Months post HCT</text>
<g transform="translate(15.899999999999999 371) rotate(-90)"><text x="0" y="3.46" font-size="9.6" text-anchor="middle" fill="#231f20" stroke="#231f20" stroke-width="0.35" textLength="55.5" lengthAdjust="spacingAndGlyphs">OD (405)nm Ro-52</text></g>
<line x1="313.5" y1="305.5" x2="313.5" y2="435.5" stroke="#231f20" stroke-width="1.1"/>
<line x1="313.0" y1="435.5" x2="505.5" y2="435.5" stroke="#231f20" stroke-width="1.3"/>
<line x1="310.0" y1="435.5" x2="313.5" y2="435.5" stroke="#231f20" stroke-width="0.9"/>
<text x="307.30" y="438.42" font-size="8.1" text-anchor="end" fill="#231f20" stroke="#231f20" font-weight="normal" >0.0</text>
<line x1="310.0" y1="414.45" x2="313.5" y2="414.45" stroke="#231f20" stroke-width="0.9"/>
<text x="307.30" y="417.37" font-size="8.1" text-anchor="end" fill="#231f20" stroke="#231f20" font-weight="normal" >0.5</text>
<line x1="310.0" y1="393.4" x2="313.5" y2="393.4" stroke="#231f20" stroke-width="0.9"/>
<text x="307.30" y="396.32" font-size="8.1" text-anchor="end" fill="#231f20" stroke="#231f20" font-weight="normal" >1.0</text>
<line x1="310.0" y1="372.35" x2="313.5" y2="372.35" stroke="#231f20" stroke-width="0.9"/>
<text x="307.30" y="375.27" font-size="8.1" text-anchor="end" fill="#231f20" stroke="#231f20" font-weight="normal" >1.5</text>
<line x1="310.0" y1="351.3" x2="313.5" y2="351.3" stroke="#231f20" stroke-width="0.9"/>
<text x="307.30" y="354.22" font-size="8.1" text-anchor="end" fill="#231f20" stroke="#231f20" font-weight="normal" >2.0</text>
<line x1="310.0" y1="330.25" x2="313.5" y2="330.25" stroke="#231f20" stroke-width="0.9"/>
<text x="307.30" y="333.17" font-size="8.1" text-anchor="end" fill="#231f20" stroke="#231f20" font-weight="normal" >2.5</text>
<line x1="310.0" y1="309.2" x2="313.5" y2="309.2" stroke="#231f20" stroke-width="0.9"/>
<text x="307.30" y="312.12" font-size="8.1" text-anchor="end" fill="#231f20" stroke="#231f20" font-weight="normal" >3.0</text>
<line x1="337.8" y1="435.5" x2="337.8" y2="438.5" stroke="#231f20" stroke-width="0.9"/>
<text x="337.80" y="448.75" font-size="7.3" text-anchor="middle" fill="#231f20" stroke="#231f20" font-weight="normal" >1</text>
<line x1="373.4" y1="435.5" x2="373.4" y2="438.5" stroke="#231f20" stroke-width="0.9"/>
<text x="373.40" y="448.75" font-size="7.3" text-anchor="middle" fill="#231f20" stroke="#231f20" font-weight="normal" >3</text>
<line x1="409.2" y1="435.5" x2="409.2" y2="438.5" stroke="#231f20" stroke-width="0.9"/>
<text x="409.20" y="448.75" font-size="7.3" text-anchor="middle" fill="#231f20" stroke="#231f20" font-weight="normal" >6</text>
<line x1="445.0" y1="435.5" x2="445.0" y2="438.5" stroke="#231f20" stroke-width="0.9"/>
<text x="445.00" y="448.75" font-size="7.3" text-anchor="middle" fill="#231f20" stroke="#231f20" font-weight="normal" >9</text>
<line x1="481.0" y1="435.5" x2="481.0" y2="438.5" stroke="#231f20" stroke-width="0.9"/>
<text x="481.00" y="448.75" font-size="7.3" text-anchor="middle" fill="#231f20" stroke="#231f20" font-weight="normal" >12</text>
<polyline points="337.80,407.29 373.40,414.45 409.20,414.45 445.00,419.50 481.00,421.19" fill="none" stroke="#d42a84" stroke-width="0.9"/>
<polyline points="373.40,407.29 409.20,413.61 445.00,416.98 481.00,418.24" fill="none" stroke="#d42a84" stroke-width="0.9"/>
<polyline points="373.40,420.76 409.20,421.61 445.00,420.76 481.00,424.13" fill="none" stroke="#d42a84" stroke-width="0.9"/>
<polyline points="337.80,429.19 373.40,427.08 409.20,427.08 445.00,426.24 481.00,421.19" fill="none" stroke="#d42a84" stroke-width="0.9"/>
<polyline points="337.80,430.45 373.40,429.19 409.20,430.45 445.00,428.34 481.00,430.87" fill="none" stroke="#d42a84" stroke-width="0.9"/>
<polyline points="337.80,431.29 373.40,430.45 409.20,431.29 445.00,431.29 481.00,430.87" fill="none" stroke="#d42a84" stroke-width="0.9"/>
<polyline points="337.80,429.61 373.40,427.92 409.20,429.19 445.00,430.45 481.00,424.13" fill="none" stroke="#d42a84" stroke-width="0.9"/>
<line x1="314.0" y1="419.1" x2="502" y2="419.1" stroke="#444" stroke-width="1.2" stroke-dasharray="1.9 1.2"/>
<circle cx="337.8" cy="407.29" r="2.4" fill="none" stroke="#d42a84" stroke-width="1.0"/>
<circle cx="373.4" cy="414.45" r="2.4" fill="none" stroke="#d42a84" stroke-width="1.0"/>
<circle cx="409.2" cy="414.45" r="2.4" fill="none" stroke="#d42a84" stroke-width="1.0"/>
<circle cx="445.0" cy="419.50" r="2.4" fill="none" stroke="#d42a84" stroke-width="1.0"/>
<circle cx="481.0" cy="421.19" r="2.4" fill="none" stroke="#d42a84" stroke-width="1.0"/>
<circle cx="373.4" cy="407.29" r="2.4" fill="none" stroke="#d42a84" stroke-width="1.0"/>
<circle cx="409.2" cy="413.61" r="2.4" fill="none" stroke="#d42a84" stroke-width="1.0"/>
<circle cx="445.0" cy="416.98" r="2.4" fill="none" stroke="#d42a84" stroke-width="1.0"/>
<circle cx="481.0" cy="418.24" r="2.4" fill="none" stroke="#d42a84" stroke-width="1.0"/>
<circle cx="373.4" cy="420.76" r="2.4" fill="none" stroke="#d42a84" stroke-width="1.0"/>
<circle cx="409.2" cy="421.61" r="2.4" fill="none" stroke="#d42a84" stroke-width="1.0"/>
<circle cx="445.0" cy="420.76" r="2.4" fill="none" stroke="#d42a84" stroke-width="1.0"/>
<circle cx="481.0" cy="424.13" r="2.4" fill="none" stroke="#d42a84" stroke-width="1.0"/>
<circle cx="337.8" cy="429.19" r="2.4" fill="none" stroke="#d42a84" stroke-width="1.0"/>
<circle cx="373.4" cy="427.08" r="2.4" fill="none" stroke="#d42a84" stroke-width="1.0"/>
<circle cx="409.2" cy="427.08" r="2.4" fill="none" stroke="#d42a84" stroke-width="1.0"/>
<circle cx="445.0" cy="426.24" r="2.4" fill="none" stroke="#d42a84" stroke-width="1.0"/>
<circle cx="481.0" cy="421.19" r="2.4" fill="none" stroke="#d42a84" stroke-width="1.0"/>
<circle cx="337.8" cy="430.45" r="2.4" fill="none" stroke="#d42a84" stroke-width="1.0"/>
<circle cx="373.4" cy="429.19" r="2.4" fill="none" stroke="#d42a84" stroke-width="1.0"/>
<circle cx="409.2" cy="430.45" r="2.4" fill="none" stroke="#d42a84" stroke-width="1.0"/>
<circle cx="445.0" cy="428.34" r="2.4" fill="none" stroke="#d42a84" stroke-width="1.0"/>
<circle cx="481.0" cy="430.87" r="2.4" fill="none" stroke="#d42a84" stroke-width="1.0"/>
<circle cx="337.8" cy="431.29" r="2.4" fill="none" stroke="#d42a84" stroke-width="1.0"/>
<circle cx="373.4" cy="430.45" r="2.4" fill="none" stroke="#d42a84" stroke-width="1.0"/>
<circle cx="409.2" cy="431.29" r="2.4" fill="none" stroke="#d42a84" stroke-width="1.0"/>
<circle cx="445.0" cy="431.29" r="2.4" fill="none" stroke="#d42a84" stroke-width="1.0"/>
<circle cx="481.0" cy="430.87" r="2.4" fill="none" stroke="#d42a84" stroke-width="1.0"/>
<circle cx="337.8" cy="429.61" r="2.4" fill="none" stroke="#d42a84" stroke-width="1.0"/>
<circle cx="373.4" cy="427.92" r="2.4" fill="none" stroke="#d42a84" stroke-width="1.0"/>
<circle cx="409.2" cy="429.19" r="2.4" fill="none" stroke="#d42a84" stroke-width="1.0"/>
<circle cx="445.0" cy="430.45" r="2.4" fill="none" stroke="#d42a84" stroke-width="1.0"/>
<circle cx="481.0" cy="424.13" r="2.4" fill="none" stroke="#d42a84" stroke-width="1.0"/>
<text x="409.8" y="300.0" font-size="9.2" text-anchor="middle" fill="#231f20" stroke="#231f20" textLength="46.5" lengthAdjust="spacingAndGlyphs">No cGVHD</text>
<line x1="386.55" y1="301.0" x2="433.05" y2="301.0" stroke="#231f20" stroke-width="0.7"/>
<text x="409.4" y="461.4" font-size="9.2" text-anchor="middle" fill="#231f20" stroke="#231f20" stroke-width="0.3" textLength="48" lengthAdjust="spacingAndGlyphs">Months post HCT</text>
<g transform="translate(287.9 371) rotate(-90)"><text x="0" y="3.46" font-size="9.6" text-anchor="middle" fill="#231f20" stroke="#231f20" stroke-width="0.35" textLength="55.5" lengthAdjust="spacingAndGlyphs">OD (405)nm Ro-52</text></g>
<line x1="41.5" y1="500" x2="41.5" y2="629.4" stroke="#231f20" stroke-width="1"/>
<line x1="41.0" y1="629.4" x2="355.4" y2="629.4" stroke="#231f20" stroke-width="1.1"/>
<line x1="38.0" y1="629.40" x2="41.5" y2="629.40" stroke="#231f20" stroke-width="0.8"/>
<text x="35.90" y="632.35" font-size="8.2" text-anchor="end" fill="#231f20" stroke="#231f20" font-weight="normal" >0.00</text>
<line x1="38.0" y1="604.24" x2="41.5" y2="604.24" stroke="#231f20" stroke-width="0.8"/>
<text x="35.90" y="607.19" font-size="8.2" text-anchor="end" fill="#231f20" stroke="#231f20" font-weight="normal" >0.02</text>
<line x1="38.0" y1="579.08" x2="41.5" y2="579.08" stroke="#231f20" stroke-width="0.8"/>
<text x="35.90" y="582.03" font-size="8.2" text-anchor="end" fill="#231f20" stroke="#231f20" font-weight="normal" >0.04</text>
<line x1="38.0" y1="553.92" x2="41.5" y2="553.92" stroke="#231f20" stroke-width="0.8"/>
<text x="35.90" y="556.87" font-size="8.2" text-anchor="end" fill="#231f20" stroke="#231f20" font-weight="normal" >0.06</text>
<line x1="38.0" y1="528.76" x2="41.5" y2="528.76" stroke="#231f20" stroke-width="0.8"/>
<text x="35.90" y="531.71" font-size="8.2" text-anchor="end" fill="#231f20" stroke="#231f20" font-weight="normal" >0.08</text>
<line x1="38.0" y1="503.60" x2="41.5" y2="503.60" stroke="#231f20" stroke-width="0.8"/>
<text x="35.90" y="506.55" font-size="8.2" text-anchor="end" fill="#231f20" stroke="#231f20" font-weight="normal" >0.10</text>
<line x1="43.85" y1="629.4" x2="43.85" y2="632.1" stroke="#231f20" stroke-width="1.1"/>
<line x1="47.20" y1="629.4" x2="47.20" y2="632.1" stroke="#231f20" stroke-width="1.1"/>
<line x1="50.54" y1="629.4" x2="50.54" y2="632.1" stroke="#231f20" stroke-width="1.1"/>
<line x1="53.89" y1="629.4" x2="53.89" y2="632.1" stroke="#231f20" stroke-width="1.1"/>
<line x1="57.23" y1="629.4" x2="57.23" y2="632.1" stroke="#231f20" stroke-width="1.1"/>
<line x1="60.58" y1="629.4" x2="60.58" y2="632.1" stroke="#231f20" stroke-width="1.1"/>
<line x1="63.93" y1="629.4" x2="63.93" y2="632.1" stroke="#231f20" stroke-width="1.1"/>
<line x1="67.27" y1="629.4" x2="67.27" y2="632.1" stroke="#231f20" stroke-width="1.1"/>
<line x1="70.62" y1="629.4" x2="70.62" y2="632.1" stroke="#231f20" stroke-width="1.1"/>
<line x1="73.96" y1="629.4" x2="73.96" y2="632.1" stroke="#231f20" stroke-width="1.1"/>
<line x1="77.31" y1="629.4" x2="77.31" y2="632.1" stroke="#231f20" stroke-width="1.1"/>
<line x1="80.66" y1="629.4" x2="80.66" y2="632.1" stroke="#231f20" stroke-width="1.1"/>
<line x1="84.00" y1="629.4" x2="84.00" y2="632.1" stroke="#231f20" stroke-width="1.1"/>
<line x1="87.35" y1="629.4" x2="87.35" y2="632.1" stroke="#231f20" stroke-width="1.1"/>
<line x1="90.69" y1="629.4" x2="90.69" y2="632.1" stroke="#231f20" stroke-width="1.1"/>
<line x1="94.04" y1="629.4" x2="94.04" y2="632.1" stroke="#231f20" stroke-width="1.1"/>
<line x1="97.39" y1="629.4" x2="97.39" y2="632.1" stroke="#231f20" stroke-width="1.1"/>
<line x1="100.73" y1="629.4" x2="100.73" y2="632.1" stroke="#231f20" stroke-width="1.1"/>
<line x1="104.08" y1="629.4" x2="104.08" y2="632.1" stroke="#231f20" stroke-width="1.1"/>
<line x1="107.42" y1="629.4" x2="107.42" y2="632.1" stroke="#231f20" stroke-width="1.1"/>
<line x1="110.77" y1="629.4" x2="110.77" y2="632.1" stroke="#231f20" stroke-width="1.1"/>
<line x1="114.12" y1="629.4" x2="114.12" y2="632.1" stroke="#231f20" stroke-width="1.1"/>
<line x1="117.46" y1="629.4" x2="117.46" y2="632.1" stroke="#231f20" stroke-width="1.1"/>
<line x1="120.81" y1="629.4" x2="120.81" y2="632.1" stroke="#231f20" stroke-width="1.1"/>
<line x1="124.15" y1="629.4" x2="124.15" y2="632.1" stroke="#231f20" stroke-width="1.1"/>
<line x1="127.50" y1="629.4" x2="127.50" y2="632.1" stroke="#231f20" stroke-width="1.1"/>
<line x1="130.85" y1="629.4" x2="130.85" y2="632.1" stroke="#231f20" stroke-width="1.1"/>
<line x1="134.19" y1="629.4" x2="134.19" y2="632.1" stroke="#231f20" stroke-width="1.1"/>
<line x1="137.54" y1="629.4" x2="137.54" y2="632.1" stroke="#231f20" stroke-width="1.1"/>
<line x1="140.88" y1="629.4" x2="140.88" y2="632.1" stroke="#231f20" stroke-width="1.1"/>
<line x1="144.23" y1="629.4" x2="144.23" y2="632.1" stroke="#231f20" stroke-width="1.1"/>
<line x1="147.58" y1="629.4" x2="147.58" y2="632.1" stroke="#231f20" stroke-width="1.1"/>
<line x1="150.92" y1="629.4" x2="150.92" y2="632.1" stroke="#231f20" stroke-width="1.1"/>
<line x1="154.27" y1="629.4" x2="154.27" y2="632.1" stroke="#231f20" stroke-width="1.1"/>
<line x1="157.61" y1="629.4" x2="157.61" y2="632.1" stroke="#231f20" stroke-width="1.1"/>
<line x1="160.96" y1="629.4" x2="160.96" y2="632.1" stroke="#231f20" stroke-width="1.1"/>
<line x1="164.31" y1="629.4" x2="164.31" y2="632.1" stroke="#231f20" stroke-width="1.1"/>
<line x1="167.65" y1="629.4" x2="167.65" y2="632.1" stroke="#231f20" stroke-width="1.1"/>
<line x1="171.00" y1="629.4" x2="171.00" y2="632.1" stroke="#231f20" stroke-width="1.1"/>
<line x1="174.34" y1="629.4" x2="174.34" y2="632.1" stroke="#231f20" stroke-width="1.1"/>
<line x1="177.69" y1="629.4" x2="177.69" y2="632.1" stroke="#231f20" stroke-width="1.1"/>
<line x1="181.04" y1="629.4" x2="181.04" y2="632.1" stroke="#231f20" stroke-width="1.1"/>
<line x1="184.38" y1="629.4" x2="184.38" y2="632.1" stroke="#231f20" stroke-width="1.1"/>
<line x1="187.73" y1="629.4" x2="187.73" y2="632.1" stroke="#231f20" stroke-width="1.1"/>
<line x1="191.07" y1="629.4" x2="191.07" y2="632.1" stroke="#231f20" stroke-width="1.1"/>
<line x1="194.42" y1="629.4" x2="194.42" y2="632.1" stroke="#231f20" stroke-width="1.1"/>
<line x1="197.77" y1="629.4" x2="197.77" y2="632.1" stroke="#231f20" stroke-width="1.1"/>
<line x1="201.11" y1="629.4" x2="201.11" y2="632.1" stroke="#231f20" stroke-width="1.1"/>
<line x1="204.46" y1="629.4" x2="204.46" y2="632.1" stroke="#231f20" stroke-width="1.1"/>
<line x1="207.80" y1="629.4" x2="207.80" y2="632.1" stroke="#231f20" stroke-width="1.1"/>
<line x1="211.15" y1="629.4" x2="211.15" y2="632.1" stroke="#231f20" stroke-width="1.1"/>
<line x1="214.50" y1="629.4" x2="214.50" y2="632.1" stroke="#231f20" stroke-width="1.1"/>
<line x1="217.84" y1="629.4" x2="217.84" y2="632.1" stroke="#231f20" stroke-width="1.1"/>
<line x1="221.19" y1="629.4" x2="221.19" y2="632.1" stroke="#231f20" stroke-width="1.1"/>
<line x1="224.53" y1="629.4" x2="224.53" y2="632.1" stroke="#231f20" stroke-width="1.1"/>
<line x1="227.88" y1="629.4" x2="227.88" y2="632.1" stroke="#231f20" stroke-width="1.1"/>
<line x1="231.23" y1="629.4" x2="231.23" y2="632.1" stroke="#231f20" stroke-width="1.1"/>
<line x1="234.57" y1="629.4" x2="234.57" y2="632.1" stroke="#231f20" stroke-width="1.1"/>
<line x1="237.92" y1="629.4" x2="237.92" y2="632.1" stroke="#231f20" stroke-width="1.1"/>
<line x1="241.26" y1="629.4" x2="241.26" y2="632.1" stroke="#231f20" stroke-width="1.1"/>
<line x1="244.61" y1="629.4" x2="244.61" y2="632.1" stroke="#231f20" stroke-width="1.1"/>
<line x1="247.96" y1="629.4" x2="247.96" y2="632.1" stroke="#231f20" stroke-width="1.1"/>
<line x1="251.30" y1="629.4" x2="251.30" y2="632.1" stroke="#231f20" stroke-width="1.1"/>
<line x1="254.65" y1="629.4" x2="254.65" y2="632.1" stroke="#231f20" stroke-width="1.1"/>
<line x1="257.99" y1="629.4" x2="257.99" y2="632.1" stroke="#231f20" stroke-width="1.1"/>
<line x1="261.34" y1="629.4" x2="261.34" y2="632.1" stroke="#231f20" stroke-width="1.1"/>
<line x1="264.69" y1="629.4" x2="264.69" y2="632.1" stroke="#231f20" stroke-width="1.1"/>
<line x1="268.03" y1="629.4" x2="268.03" y2="632.1" stroke="#231f20" stroke-width="1.1"/>
<line x1="271.38" y1="629.4" x2="271.38" y2="632.1" stroke="#231f20" stroke-width="1.1"/>
<line x1="274.72" y1="629.4" x2="274.72" y2="632.1" stroke="#231f20" stroke-width="1.1"/>
<line x1="278.07" y1="629.4" x2="278.07" y2="632.1" stroke="#231f20" stroke-width="1.1"/>
<line x1="281.42" y1="629.4" x2="281.42" y2="632.1" stroke="#231f20" stroke-width="1.1"/>
<line x1="284.76" y1="629.4" x2="284.76" y2="632.1" stroke="#231f20" stroke-width="1.1"/>
<line x1="288.11" y1="629.4" x2="288.11" y2="632.1" stroke="#231f20" stroke-width="1.1"/>
<line x1="291.45" y1="629.4" x2="291.45" y2="632.1" stroke="#231f20" stroke-width="1.1"/>
<line x1="294.80" y1="629.4" x2="294.80" y2="632.1" stroke="#231f20" stroke-width="1.1"/>
<line x1="298.15" y1="629.4" x2="298.15" y2="632.1" stroke="#231f20" stroke-width="1.1"/>
<line x1="301.49" y1="629.4" x2="301.49" y2="632.1" stroke="#231f20" stroke-width="1.1"/>
<line x1="304.84" y1="629.4" x2="304.84" y2="632.1" stroke="#231f20" stroke-width="1.1"/>
<line x1="308.18" y1="629.4" x2="308.18" y2="632.1" stroke="#231f20" stroke-width="1.1"/>
<line x1="311.53" y1="629.4" x2="311.53" y2="632.1" stroke="#231f20" stroke-width="1.1"/>
<line x1="314.88" y1="629.4" x2="314.88" y2="632.1" stroke="#231f20" stroke-width="1.1"/>
<line x1="318.22" y1="629.4" x2="318.22" y2="632.1" stroke="#231f20" stroke-width="1.1"/>
<line x1="321.57" y1="629.4" x2="321.57" y2="632.1" stroke="#231f20" stroke-width="1.1"/>
<line x1="324.91" y1="629.4" x2="324.91" y2="632.1" stroke="#231f20" stroke-width="1.1"/>
<line x1="328.26" y1="629.4" x2="328.26" y2="632.1" stroke="#231f20" stroke-width="1.1"/>
<line x1="331.61" y1="629.4" x2="331.61" y2="632.1" stroke="#231f20" stroke-width="1.1"/>
<line x1="334.95" y1="629.4" x2="334.95" y2="632.1" stroke="#231f20" stroke-width="1.1"/>
<line x1="338.30" y1="629.4" x2="338.30" y2="632.1" stroke="#231f20" stroke-width="1.1"/>
<line x1="341.64" y1="629.4" x2="341.64" y2="632.1" stroke="#231f20" stroke-width="1.1"/>
<line x1="344.99" y1="629.4" x2="344.99" y2="632.1" stroke="#231f20" stroke-width="1.1"/>
<line x1="348.34" y1="629.4" x2="348.34" y2="632.1" stroke="#231f20" stroke-width="1.1"/>
<line x1="351.68" y1="629.4" x2="351.68" y2="632.1" stroke="#231f20" stroke-width="1.1"/>
<rect x="49.59" y="627.51" width="1.9" height="1.89" fill="#55a84c"/>
<rect x="59.63" y="623.74" width="1.9" height="5.66" fill="#55a84c"/>
<rect x="62.98" y="626.25" width="1.9" height="3.15" fill="#55a84c"/>
<rect x="66.32" y="625.63" width="1.9" height="3.77" fill="#55a84c"/>
<rect x="83.05" y="627.89" width="1.9" height="1.51" fill="#55a84c"/>
<rect x="143.28" y="619.71" width="1.9" height="9.69" fill="#55a84c"/>
<rect x="146.63" y="623.61" width="1.9" height="5.79" fill="#55a84c"/>
<rect x="156.66" y="628.39" width="1.9" height="1.01" fill="#333"/>
<rect x="160.01" y="623.61" width="1.9" height="5.79" fill="#c0143c"/>
<rect x="163.36" y="614.93" width="1.9" height="14.47" fill="#c0143c"/>
<rect x="166.70" y="576.56" width="1.9" height="52.84" fill="#c0143c"/>
<rect x="170.05" y="625.00" width="1.9" height="4.40" fill="#1a6b7a"/>
<rect x="173.39" y="524.99" width="1.9" height="104.41" fill="#1b4b85"/>
<rect x="180.09" y="626.38" width="1.9" height="3.02" fill="#1b4b85"/>
<rect x="186.78" y="617.45" width="1.9" height="11.95" fill="#1b4b85"/>
<rect x="216.89" y="628.39" width="1.9" height="1.01" fill="#1b4b85"/>
<rect x="267.08" y="628.39" width="1.9" height="1.01" fill="#1b4b85"/>
<rect x="300.54" y="618.96" width="1.9" height="10.44" fill="#1b4b85"/>
<rect x="307.23" y="628.77" width="1.9" height="0.63" fill="#1b4b85"/>
<line x1="43.85" y1="635.8" x2="147.3" y2="635.8" stroke="#88c87c" stroke-width="1.6"/>
<line x1="150.2" y1="635.8" x2="168.8" y2="635.8" stroke="#d27593" stroke-width="1.6"/>
<line x1="171.1" y1="635.8" x2="352" y2="635.8" stroke="#7d8fb6" stroke-width="1.6"/>
<text x="95.8" y="649.30" font-size="8.2" text-anchor="middle" fill="#66b45a" stroke="#66b45a" stroke-width="0.1">CD38<tspan font-size="5.2" dy="-3">hi</tspan></text>
<text x="96.5" y="658.60" font-size="8.2" text-anchor="middle" fill="#66b45a" stroke="#66b45a" stroke-width="0.1">IgD<tspan font-size="5.2" dy="-3">lo</tspan></text>
<text x="158" y="649.30" font-size="8.2" text-anchor="middle" fill="#c8305a" stroke="#c8305a" stroke-width="0.1">CD38<tspan font-size="5.2" dy="-3">hi</tspan></text>
<text x="158.7" y="658.60" font-size="8.2" text-anchor="middle" fill="#c8305a" stroke="#c8305a" stroke-width="0.1">IgD<tspan font-size="5.2" dy="-3">hi</tspan></text>
<text x="260.5" y="649.30" font-size="8.2" text-anchor="middle" fill="#3a649c" stroke="#3a649c" stroke-width="0.1">CD38<tspan font-size="5.2" dy="-3">lo</tspan></text>
<text x="261.2" y="658.60" font-size="8.2" text-anchor="middle" fill="#3a649c" stroke="#3a649c" stroke-width="0.1">IgD<tspan font-size="5.2" dy="-3">lo</tspan></text>
<g transform="translate(11.75 565) rotate(-90)"><text x="0" y="3.46" font-size="9.6" text-anchor="middle" fill="#231f20" stroke="#231f20" stroke-width="0.35" textLength="57" lengthAdjust="spacingAndGlyphs">OD (405)nm Ro-52</text></g>
<line x1="415.5" y1="502.5" x2="415.5" y2="629.5" stroke="#231f20" stroke-width="1"/>
<line x1="415.0" y1="629.5" x2="496" y2="629.5" stroke="#231f20" stroke-width="1.2"/>
<line x1="412.5" y1="629.50" x2="415.5" y2="629.50" stroke="#231f20" stroke-width="0.8"/>
<text x="408.30" y="632.16" font-size="7.4" text-anchor="end" fill="#231f20" stroke="#231f20" font-weight="normal" >0</text>
<line x1="412.5" y1="598.40" x2="415.5" y2="598.40" stroke="#231f20" stroke-width="0.8"/>
<text x="408.30" y="601.06" font-size="7.4" text-anchor="end" fill="#231f20" stroke="#231f20" font-weight="normal" >1</text>
<line x1="412.5" y1="567.30" x2="415.5" y2="567.30" stroke="#231f20" stroke-width="0.8"/>
<text x="408.30" y="569.96" font-size="7.4" text-anchor="end" fill="#231f20" stroke="#231f20" font-weight="normal" >2</text>
<line x1="412.5" y1="536.20" x2="415.5" y2="536.20" stroke="#231f20" stroke-width="0.8"/>
<text x="408.30" y="538.86" font-size="7.4" text-anchor="end" fill="#231f20" stroke="#231f20" font-weight="normal" >3</text>
<line x1="412.5" y1="505.10" x2="415.5" y2="505.10" stroke="#231f20" stroke-width="0.8"/>
<text x="408.30" y="507.76" font-size="7.4" text-anchor="end" fill="#231f20" stroke="#231f20" font-weight="normal" >4</text>
<rect x="423" y="544.29" width="12" height="85.21" fill="#a9bb8b"/>
<rect x="436.75" y="616.44" width="12" height="13.06" fill="#1e6a4c"/>
<rect x="464.25" y="521.27" width="12" height="108.23" fill="#a9bb8b"/>
<rect x="478" y="569.79" width="12" height="59.71" fill="#1e6a4c"/>
<text x="428.75" y="642.20" font-size="7.5" text-anchor="middle" fill="#231f20" stroke="#231f20" font-weight="normal" >Pt</text>
<text x="442.50" y="642.20" font-size="7.5" text-anchor="middle" fill="#231f20" stroke="#231f20" font-weight="normal" >9</text>
<text x="470.00" y="642.20" font-size="7.5" text-anchor="middle" fill="#231f20" stroke="#231f20" font-weight="normal" >Pt</text>
<text x="483.75" y="642.20" font-size="7.5" text-anchor="middle" fill="#231f20" stroke="#231f20" font-weight="normal" >10</text>
<line x1="426.95" y1="651.4" x2="430.55" y2="651.4" stroke="#231f20" stroke-width="0.8"/>
<line x1="468.2" y1="651.4" x2="471.8" y2="651.4" stroke="#231f20" stroke-width="0.8"/>
<text x="442.50" y="653.95" font-size="7.5" text-anchor="middle" fill="#231f20" stroke="#231f20" font-weight="normal" >+</text>
<text x="483.75" y="653.95" font-size="7.5" text-anchor="middle" fill="#231f20" stroke="#231f20" font-weight="normal" >+</text>
<line x1="429" y1="629.5" x2="429" y2="632.1" stroke="#231f20" stroke-width="0.9"/>
<line x1="442.6" y1="629.5" x2="442.6" y2="632.1" stroke="#231f20" stroke-width="0.9"/>
<line x1="470" y1="629.5" x2="470" y2="632.1" stroke="#231f20" stroke-width="0.9"/>
<line x1="484" y1="629.5" x2="484" y2="632.1" stroke="#231f20" stroke-width="0.9"/>
<text x="408.75" y="653.95" font-size="7.5" text-anchor="end" fill="#231f20" stroke="#231f20" font-weight="normal" >RNase</text>
<g transform="translate(396.0 565.2) rotate(-90)"><text x="0" y="3.38" font-size="9.4" text-anchor="middle" fill="#231f20" stroke="#231f20" stroke-width="0.35" textLength="56.6" lengthAdjust="spacingAndGlyphs">OD (405)nm Ro-52</text></g>
<rect x="0.5" y="0.5" width="519" height="666" fill="none" stroke="#484848" stroke-width="1"/>
</svg>
</body></html>
